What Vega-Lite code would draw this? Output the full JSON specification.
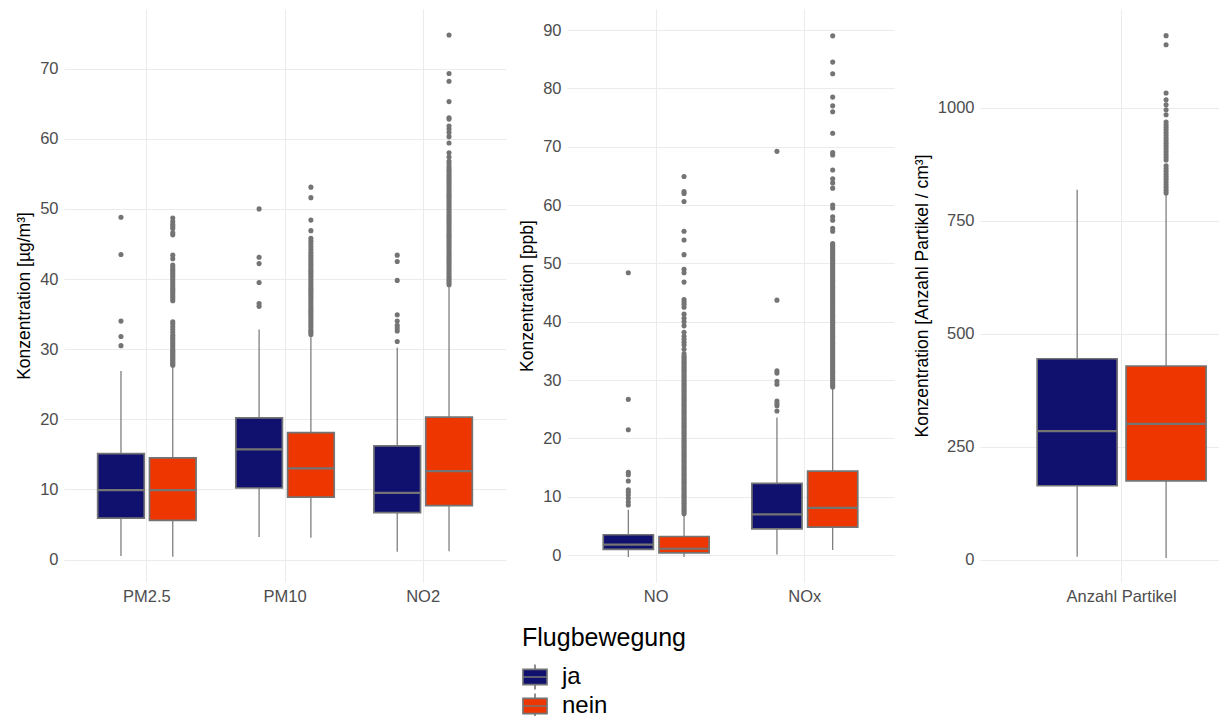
{
  "$schema": "https://vega.github.io/schema/vega-lite/v6.json",
  "padding": {"left": 15, "top": 9, "right": 0, "bottom": 0},
  "bounds": "flush",
  "spacing": 0,
  "datasets": {
    "stats": [
      {"v": "PM2.5", "g": "ja", "lo": 0.5, "q1": 5.9, "med": 9.9, "q3": 15.1, "hi": 26.9},
      {"v": "PM2.5", "g": "nein", "lo": 0.4, "q1": 5.6, "med": 9.9, "q3": 14.5, "hi": 27.6},
      {"v": "PM10", "g": "ja", "lo": 3.2, "q1": 10.2, "med": 15.7, "q3": 20.2, "hi": 32.8},
      {"v": "PM10", "g": "nein", "lo": 3.1, "q1": 8.9, "med": 13.0, "q3": 18.1, "hi": 31.9},
      {"v": "NO2", "g": "ja", "lo": 1.1, "q1": 6.7, "med": 9.5, "q3": 16.2, "hi": 30.2},
      {"v": "NO2", "g": "nein", "lo": 1.2, "q1": 7.7, "med": 12.6, "q3": 20.3, "hi": 39.1},
      {"v": "NO", "g": "ja", "lo": -0.3, "q1": 1.0, "med": 1.8, "q3": 3.5, "hi": 7.8},
      {"v": "NO", "g": "nein", "lo": -0.3, "q1": 0.4, "med": 1.1, "q3": 3.2, "hi": 7.0},
      {"v": "NOx", "g": "ja", "lo": 0.1, "q1": 4.5, "med": 7.0, "q3": 12.3, "hi": 23.6},
      {"v": "NOx", "g": "nein", "lo": 0.9, "q1": 4.8, "med": 8.1, "q3": 14.4, "hi": 28.7},
      {"v": "Anzahl Partikel", "g": "ja", "lo": 7, "q1": 164, "med": 285, "q3": 445, "hi": 819},
      {"v": "Anzahl Partikel", "g": "nein", "lo": 4, "q1": 175, "med": 301, "q3": 429, "hi": 808}
    ],
    "out": [
      {"v":"PM2.5","g":"ja","y":48.8},{"v":"PM2.5","g":"ja","y":43.5},{"v":"PM2.5","g":"ja","y":34.0},{"v":"PM2.5","g":"ja","y":31.8},{"v":"PM2.5","g":"ja","y":30.5},
      {"v":"PM2.5","g":"nein","y":27.7},{"v":"PM2.5","g":"nein","y":27.9},{"v":"PM2.5","g":"nein","y":28.1},{"v":"PM2.5","g":"nein","y":28.3},{"v":"PM2.5","g":"nein","y":28.5},{"v":"PM2.5","g":"nein","y":28.7},{"v":"PM2.5","g":"nein","y":28.9},{"v":"PM2.5","g":"nein","y":29.1},{"v":"PM2.5","g":"nein","y":29.3},{"v":"PM2.5","g":"nein","y":29.5},{"v":"PM2.5","g":"nein","y":29.7},{"v":"PM2.5","g":"nein","y":29.9},{"v":"PM2.5","g":"nein","y":30.2},{"v":"PM2.5","g":"nein","y":30.5},{"v":"PM2.5","g":"nein","y":30.8},{"v":"PM2.5","g":"nein","y":31.1},{"v":"PM2.5","g":"nein","y":31.4},{"v":"PM2.5","g":"nein","y":31.7},{"v":"PM2.5","g":"nein","y":32.0},{"v":"PM2.5","g":"nein","y":32.4},{"v":"PM2.5","g":"nein","y":32.8},{"v":"PM2.5","g":"nein","y":33.2},{"v":"PM2.5","g":"nein","y":33.6},{"v":"PM2.5","g":"nein","y":33.9},{"v":"PM2.5","g":"nein","y":36.9},{"v":"PM2.5","g":"nein","y":37.2},{"v":"PM2.5","g":"nein","y":37.5},{"v":"PM2.5","g":"nein","y":37.8},{"v":"PM2.5","g":"nein","y":38.1},{"v":"PM2.5","g":"nein","y":38.4},{"v":"PM2.5","g":"nein","y":38.7},{"v":"PM2.5","g":"nein","y":39.0},{"v":"PM2.5","g":"nein","y":39.3},{"v":"PM2.5","g":"nein","y":39.6},{"v":"PM2.5","g":"nein","y":39.9},{"v":"PM2.5","g":"nein","y":40.2},{"v":"PM2.5","g":"nein","y":40.5},{"v":"PM2.5","g":"nein","y":40.8},{"v":"PM2.5","g":"nein","y":41.1},{"v":"PM2.5","g":"nein","y":41.4},{"v":"PM2.5","g":"nein","y":41.7},{"v":"PM2.5","g":"nein","y":42.0},{"v":"PM2.5","g":"nein","y":42.9},{"v":"PM2.5","g":"nein","y":43.4},{"v":"PM2.5","g":"nein","y":46.3},{"v":"PM2.5","g":"nein","y":46.6},{"v":"PM2.5","g":"nein","y":47.2},{"v":"PM2.5","g":"nein","y":47.5},{"v":"PM2.5","g":"nein","y":47.8},{"v":"PM2.5","g":"nein","y":48.2},{"v":"PM2.5","g":"nein","y":48.7},
      {"v":"PM10","g":"ja","y":50.0},{"v":"PM10","g":"ja","y":43.1},{"v":"PM10","g":"ja","y":42.2},{"v":"PM10","g":"ja","y":39.5},{"v":"PM10","g":"ja","y":36.5},{"v":"PM10","g":"ja","y":36.1},
      {"v":"PM10","g":"nein","y":32.1},{"v":"PM10","g":"nein","y":32.4},{"v":"PM10","g":"nein","y":32.7},{"v":"PM10","g":"nein","y":33.0},{"v":"PM10","g":"nein","y":33.3},{"v":"PM10","g":"nein","y":33.6},{"v":"PM10","g":"nein","y":33.9},{"v":"PM10","g":"nein","y":34.2},{"v":"PM10","g":"nein","y":34.5},{"v":"PM10","g":"nein","y":34.8},{"v":"PM10","g":"nein","y":35.1},{"v":"PM10","g":"nein","y":35.4},{"v":"PM10","g":"nein","y":35.7},{"v":"PM10","g":"nein","y":36.0},{"v":"PM10","g":"nein","y":36.3},{"v":"PM10","g":"nein","y":36.6},{"v":"PM10","g":"nein","y":36.9},{"v":"PM10","g":"nein","y":37.2},{"v":"PM10","g":"nein","y":37.5},{"v":"PM10","g":"nein","y":37.8},{"v":"PM10","g":"nein","y":38.1},{"v":"PM10","g":"nein","y":38.4},{"v":"PM10","g":"nein","y":38.7},{"v":"PM10","g":"nein","y":39.0},{"v":"PM10","g":"nein","y":39.3},{"v":"PM10","g":"nein","y":39.6},{"v":"PM10","g":"nein","y":39.9},{"v":"PM10","g":"nein","y":40.2},{"v":"PM10","g":"nein","y":40.5},{"v":"PM10","g":"nein","y":40.8},{"v":"PM10","g":"nein","y":41.1},{"v":"PM10","g":"nein","y":41.4},{"v":"PM10","g":"nein","y":41.7},{"v":"PM10","g":"nein","y":42.0},{"v":"PM10","g":"nein","y":42.3},{"v":"PM10","g":"nein","y":42.6},{"v":"PM10","g":"nein","y":42.9},{"v":"PM10","g":"nein","y":43.2},{"v":"PM10","g":"nein","y":43.5},{"v":"PM10","g":"nein","y":43.8},{"v":"PM10","g":"nein","y":44.2},{"v":"PM10","g":"nein","y":44.6},{"v":"PM10","g":"nein","y":45.0},{"v":"PM10","g":"nein","y":45.4},{"v":"PM10","g":"nein","y":45.8},{"v":"PM10","g":"nein","y":46.9},{"v":"PM10","g":"nein","y":48.4},{"v":"PM10","g":"nein","y":51.6},{"v":"PM10","g":"nein","y":53.1},
      {"v":"NO2","g":"ja","y":31.1},{"v":"NO2","g":"ja","y":32.6},{"v":"NO2","g":"ja","y":33.0},{"v":"NO2","g":"ja","y":33.4},{"v":"NO2","g":"ja","y":34.0},{"v":"NO2","g":"ja","y":34.9},{"v":"NO2","g":"ja","y":39.8},{"v":"NO2","g":"ja","y":42.5},{"v":"NO2","g":"ja","y":43.4},
      {"v":"NO2","g":"nein","y":39.2},{"v":"NO2","g":"nein","y":39.5},{"v":"NO2","g":"nein","y":39.8},{"v":"NO2","g":"nein","y":40.1},{"v":"NO2","g":"nein","y":40.4},{"v":"NO2","g":"nein","y":40.7},{"v":"NO2","g":"nein","y":41.0},{"v":"NO2","g":"nein","y":41.3},{"v":"NO2","g":"nein","y":41.6},{"v":"NO2","g":"nein","y":41.9},{"v":"NO2","g":"nein","y":42.2},{"v":"NO2","g":"nein","y":42.5},{"v":"NO2","g":"nein","y":42.8},{"v":"NO2","g":"nein","y":43.1},{"v":"NO2","g":"nein","y":43.4},{"v":"NO2","g":"nein","y":43.7},{"v":"NO2","g":"nein","y":44.0},{"v":"NO2","g":"nein","y":44.3},{"v":"NO2","g":"nein","y":44.6},{"v":"NO2","g":"nein","y":44.9},{"v":"NO2","g":"nein","y":45.2},{"v":"NO2","g":"nein","y":45.5},{"v":"NO2","g":"nein","y":45.8},{"v":"NO2","g":"nein","y":46.1},{"v":"NO2","g":"nein","y":46.4},{"v":"NO2","g":"nein","y":46.7},{"v":"NO2","g":"nein","y":47.0},{"v":"NO2","g":"nein","y":47.3},{"v":"NO2","g":"nein","y":47.6},{"v":"NO2","g":"nein","y":47.9},{"v":"NO2","g":"nein","y":48.2},{"v":"NO2","g":"nein","y":48.5},{"v":"NO2","g":"nein","y":48.8},{"v":"NO2","g":"nein","y":49.1},{"v":"NO2","g":"nein","y":49.4},{"v":"NO2","g":"nein","y":49.7},{"v":"NO2","g":"nein","y":50.0},{"v":"NO2","g":"nein","y":50.3},{"v":"NO2","g":"nein","y":50.6},{"v":"NO2","g":"nein","y":50.9},{"v":"NO2","g":"nein","y":51.2},{"v":"NO2","g":"nein","y":51.5},{"v":"NO2","g":"nein","y":51.8},{"v":"NO2","g":"nein","y":52.1},{"v":"NO2","g":"nein","y":52.4},{"v":"NO2","g":"nein","y":52.7},{"v":"NO2","g":"nein","y":53.0},{"v":"NO2","g":"nein","y":53.3},{"v":"NO2","g":"nein","y":53.6},{"v":"NO2","g":"nein","y":53.9},{"v":"NO2","g":"nein","y":54.2},{"v":"NO2","g":"nein","y":54.5},{"v":"NO2","g":"nein","y":54.8},{"v":"NO2","g":"nein","y":55.1},{"v":"NO2","g":"nein","y":55.4},{"v":"NO2","g":"nein","y":55.7},{"v":"NO2","g":"nein","y":56.0},{"v":"NO2","g":"nein","y":56.4},{"v":"NO2","g":"nein","y":56.8},{"v":"NO2","g":"nein","y":57.4},{"v":"NO2","g":"nein","y":58.0},{"v":"NO2","g":"nein","y":59.4},{"v":"NO2","g":"nein","y":60.3},{"v":"NO2","g":"nein","y":60.9},{"v":"NO2","g":"nein","y":61.4},{"v":"NO2","g":"nein","y":61.8},{"v":"NO2","g":"nein","y":62.8},{"v":"NO2","g":"nein","y":63.0},{"v":"NO2","g":"nein","y":65.3},{"v":"NO2","g":"nein","y":68.2},{"v":"NO2","g":"nein","y":69.3},{"v":"NO2","g":"nein","y":74.8},
      {"v":"NO","g":"ja","y":8.6},{"v":"NO","g":"ja","y":9.1},{"v":"NO","g":"ja","y":9.7},{"v":"NO","g":"ja","y":10.3},{"v":"NO","g":"ja","y":10.8},{"v":"NO","g":"ja","y":11.2},{"v":"NO","g":"ja","y":12.7},{"v":"NO","g":"ja","y":13.8},{"v":"NO","g":"ja","y":14.2},{"v":"NO","g":"ja","y":21.5},{"v":"NO","g":"ja","y":26.7},{"v":"NO","g":"ja","y":48.4},
      {"v":"NO","g":"nein","y":7.1},{"v":"NO","g":"nein","y":7.4},{"v":"NO","g":"nein","y":7.7},{"v":"NO","g":"nein","y":8.0},{"v":"NO","g":"nein","y":8.3},{"v":"NO","g":"nein","y":8.6},{"v":"NO","g":"nein","y":8.9},{"v":"NO","g":"nein","y":9.2},{"v":"NO","g":"nein","y":9.5},{"v":"NO","g":"nein","y":9.8},{"v":"NO","g":"nein","y":10.1},{"v":"NO","g":"nein","y":10.4},{"v":"NO","g":"nein","y":10.7},{"v":"NO","g":"nein","y":11.0},{"v":"NO","g":"nein","y":11.3},{"v":"NO","g":"nein","y":11.6},{"v":"NO","g":"nein","y":11.9},{"v":"NO","g":"nein","y":12.2},{"v":"NO","g":"nein","y":12.5},{"v":"NO","g":"nein","y":12.8},{"v":"NO","g":"nein","y":13.1},{"v":"NO","g":"nein","y":13.4},{"v":"NO","g":"nein","y":13.7},{"v":"NO","g":"nein","y":14.0},{"v":"NO","g":"nein","y":14.3},{"v":"NO","g":"nein","y":14.6},{"v":"NO","g":"nein","y":14.9},{"v":"NO","g":"nein","y":15.2},{"v":"NO","g":"nein","y":15.5},{"v":"NO","g":"nein","y":15.8},{"v":"NO","g":"nein","y":16.1},{"v":"NO","g":"nein","y":16.4},{"v":"NO","g":"nein","y":16.7},{"v":"NO","g":"nein","y":17.0},{"v":"NO","g":"nein","y":17.3},{"v":"NO","g":"nein","y":17.6},{"v":"NO","g":"nein","y":17.9},{"v":"NO","g":"nein","y":18.2},{"v":"NO","g":"nein","y":18.5},{"v":"NO","g":"nein","y":18.8},{"v":"NO","g":"nein","y":19.1},{"v":"NO","g":"nein","y":19.4},{"v":"NO","g":"nein","y":19.7},{"v":"NO","g":"nein","y":20.0},{"v":"NO","g":"nein","y":20.3},{"v":"NO","g":"nein","y":20.6},{"v":"NO","g":"nein","y":20.9},{"v":"NO","g":"nein","y":21.2},{"v":"NO","g":"nein","y":21.5},{"v":"NO","g":"nein","y":21.8},{"v":"NO","g":"nein","y":22.1},{"v":"NO","g":"nein","y":22.4},{"v":"NO","g":"nein","y":22.7},{"v":"NO","g":"nein","y":23.0},{"v":"NO","g":"nein","y":23.3},{"v":"NO","g":"nein","y":23.6},{"v":"NO","g":"nein","y":23.9},{"v":"NO","g":"nein","y":24.2},{"v":"NO","g":"nein","y":24.5},{"v":"NO","g":"nein","y":24.8},{"v":"NO","g":"nein","y":25.1},{"v":"NO","g":"nein","y":25.4},{"v":"NO","g":"nein","y":25.7},{"v":"NO","g":"nein","y":26.0},{"v":"NO","g":"nein","y":26.3},{"v":"NO","g":"nein","y":26.6},{"v":"NO","g":"nein","y":26.9},{"v":"NO","g":"nein","y":27.2},{"v":"NO","g":"nein","y":27.5},{"v":"NO","g":"nein","y":27.8},{"v":"NO","g":"nein","y":28.1},{"v":"NO","g":"nein","y":28.4},{"v":"NO","g":"nein","y":28.7},{"v":"NO","g":"nein","y":29.0},{"v":"NO","g":"nein","y":29.3},{"v":"NO","g":"nein","y":29.6},{"v":"NO","g":"nein","y":29.9},{"v":"NO","g":"nein","y":30.2},{"v":"NO","g":"nein","y":30.5},{"v":"NO","g":"nein","y":30.8},{"v":"NO","g":"nein","y":31.1},{"v":"NO","g":"nein","y":31.4},{"v":"NO","g":"nein","y":31.7},{"v":"NO","g":"nein","y":32.0},{"v":"NO","g":"nein","y":32.3},{"v":"NO","g":"nein","y":32.6},{"v":"NO","g":"nein","y":32.9},{"v":"NO","g":"nein","y":33.2},{"v":"NO","g":"nein","y":33.5},{"v":"NO","g":"nein","y":33.8},{"v":"NO","g":"nein","y":34.1},{"v":"NO","g":"nein","y":34.5},{"v":"NO","g":"nein","y":35.3},{"v":"NO","g":"nein","y":36.0},{"v":"NO","g":"nein","y":36.5},{"v":"NO","g":"nein","y":37.0},{"v":"NO","g":"nein","y":37.5},{"v":"NO","g":"nein","y":38.2},{"v":"NO","g":"nein","y":39.3},{"v":"NO","g":"nein","y":40.0},{"v":"NO","g":"nein","y":40.6},{"v":"NO","g":"nein","y":41.3},{"v":"NO","g":"nein","y":42.5},{"v":"NO","g":"nein","y":43.0},{"v":"NO","g":"nein","y":43.4},{"v":"NO","g":"nein","y":43.8},{"v":"NO","g":"nein","y":46.8},{"v":"NO","g":"nein","y":48.4},{"v":"NO","g":"nein","y":49.0},{"v":"NO","g":"nein","y":51.5},{"v":"NO","g":"nein","y":54.0},{"v":"NO","g":"nein","y":55.5},{"v":"NO","g":"nein","y":60.6},{"v":"NO","g":"nein","y":62.0},{"v":"NO","g":"nein","y":62.3},{"v":"NO","g":"nein","y":64.9},
      {"v":"NOx","g":"ja","y":24.7},{"v":"NOx","g":"ja","y":25.6},{"v":"NOx","g":"ja","y":26.0},{"v":"NOx","g":"ja","y":26.4},{"v":"NOx","g":"ja","y":29.3},{"v":"NOx","g":"ja","y":29.8},{"v":"NOx","g":"ja","y":31.2},{"v":"NOx","g":"ja","y":31.6},{"v":"NOx","g":"ja","y":43.7},{"v":"NOx","g":"ja","y":69.2},
      {"v":"NOx","g":"nein","y":28.8},{"v":"NOx","g":"nein","y":29.1},{"v":"NOx","g":"nein","y":29.4},{"v":"NOx","g":"nein","y":29.7},{"v":"NOx","g":"nein","y":30.0},{"v":"NOx","g":"nein","y":30.3},{"v":"NOx","g":"nein","y":30.6},{"v":"NOx","g":"nein","y":30.9},{"v":"NOx","g":"nein","y":31.2},{"v":"NOx","g":"nein","y":31.5},{"v":"NOx","g":"nein","y":31.8},{"v":"NOx","g":"nein","y":32.1},{"v":"NOx","g":"nein","y":32.4},{"v":"NOx","g":"nein","y":32.7},{"v":"NOx","g":"nein","y":33.0},{"v":"NOx","g":"nein","y":33.3},{"v":"NOx","g":"nein","y":33.6},{"v":"NOx","g":"nein","y":33.9},{"v":"NOx","g":"nein","y":34.2},{"v":"NOx","g":"nein","y":34.5},{"v":"NOx","g":"nein","y":34.8},{"v":"NOx","g":"nein","y":35.1},{"v":"NOx","g":"nein","y":35.4},{"v":"NOx","g":"nein","y":35.7},{"v":"NOx","g":"nein","y":36.0},{"v":"NOx","g":"nein","y":36.3},{"v":"NOx","g":"nein","y":36.6},{"v":"NOx","g":"nein","y":36.9},{"v":"NOx","g":"nein","y":37.2},{"v":"NOx","g":"nein","y":37.5},{"v":"NOx","g":"nein","y":37.8},{"v":"NOx","g":"nein","y":38.1},{"v":"NOx","g":"nein","y":38.4},{"v":"NOx","g":"nein","y":38.7},{"v":"NOx","g":"nein","y":39.0},{"v":"NOx","g":"nein","y":39.3},{"v":"NOx","g":"nein","y":39.6},{"v":"NOx","g":"nein","y":39.9},{"v":"NOx","g":"nein","y":40.2},{"v":"NOx","g":"nein","y":40.5},{"v":"NOx","g":"nein","y":40.8},{"v":"NOx","g":"nein","y":41.1},{"v":"NOx","g":"nein","y":41.4},{"v":"NOx","g":"nein","y":41.7},{"v":"NOx","g":"nein","y":42.0},{"v":"NOx","g":"nein","y":42.3},{"v":"NOx","g":"nein","y":42.6},{"v":"NOx","g":"nein","y":42.9},{"v":"NOx","g":"nein","y":43.2},{"v":"NOx","g":"nein","y":43.5},{"v":"NOx","g":"nein","y":43.8},{"v":"NOx","g":"nein","y":44.1},{"v":"NOx","g":"nein","y":44.4},{"v":"NOx","g":"nein","y":44.7},{"v":"NOx","g":"nein","y":45.0},{"v":"NOx","g":"nein","y":45.3},{"v":"NOx","g":"nein","y":45.6},{"v":"NOx","g":"nein","y":45.9},{"v":"NOx","g":"nein","y":46.2},{"v":"NOx","g":"nein","y":46.5},{"v":"NOx","g":"nein","y":46.8},{"v":"NOx","g":"nein","y":47.1},{"v":"NOx","g":"nein","y":47.4},{"v":"NOx","g":"nein","y":47.7},{"v":"NOx","g":"nein","y":48.0},{"v":"NOx","g":"nein","y":48.3},{"v":"NOx","g":"nein","y":48.6},{"v":"NOx","g":"nein","y":48.9},{"v":"NOx","g":"nein","y":49.2},{"v":"NOx","g":"nein","y":49.5},{"v":"NOx","g":"nein","y":49.8},{"v":"NOx","g":"nein","y":50.1},{"v":"NOx","g":"nein","y":50.4},{"v":"NOx","g":"nein","y":50.7},{"v":"NOx","g":"nein","y":51.0},{"v":"NOx","g":"nein","y":51.3},{"v":"NOx","g":"nein","y":51.6},{"v":"NOx","g":"nein","y":51.9},{"v":"NOx","g":"nein","y":52.2},{"v":"NOx","g":"nein","y":52.5},{"v":"NOx","g":"nein","y":52.8},{"v":"NOx","g":"nein","y":53.1},{"v":"NOx","g":"nein","y":53.4},{"v":"NOx","g":"nein","y":55.5},{"v":"NOx","g":"nein","y":56.0},{"v":"NOx","g":"nein","y":57.4},{"v":"NOx","g":"nein","y":58.0},{"v":"NOx","g":"nein","y":59.5},{"v":"NOx","g":"nein","y":60.0},{"v":"NOx","g":"nein","y":62.9},{"v":"NOx","g":"nein","y":63.8},{"v":"NOx","g":"nein","y":64.5},{"v":"NOx","g":"nein","y":66.0},{"v":"NOx","g":"nein","y":68.6},{"v":"NOx","g":"nein","y":69.0},{"v":"NOx","g":"nein","y":72.3},{"v":"NOx","g":"nein","y":76.0},{"v":"NOx","g":"nein","y":77.0},{"v":"NOx","g":"nein","y":78.5},{"v":"NOx","g":"nein","y":82.5},{"v":"NOx","g":"nein","y":84.5},{"v":"NOx","g":"nein","y":89.0},
      {"v":"Anzahl Partikel","g":"nein","y":812},{"v":"Anzahl Partikel","g":"nein","y":818},{"v":"Anzahl Partikel","g":"nein","y":824},{"v":"Anzahl Partikel","g":"nein","y":830},{"v":"Anzahl Partikel","g":"nein","y":836},{"v":"Anzahl Partikel","g":"nein","y":842},{"v":"Anzahl Partikel","g":"nein","y":848},{"v":"Anzahl Partikel","g":"nein","y":854},{"v":"Anzahl Partikel","g":"nein","y":860},{"v":"Anzahl Partikel","g":"nein","y":866},{"v":"Anzahl Partikel","g":"nein","y":872},{"v":"Anzahl Partikel","g":"nein","y":885},{"v":"Anzahl Partikel","g":"nein","y":891},{"v":"Anzahl Partikel","g":"nein","y":897},{"v":"Anzahl Partikel","g":"nein","y":903},{"v":"Anzahl Partikel","g":"nein","y":909},{"v":"Anzahl Partikel","g":"nein","y":915},{"v":"Anzahl Partikel","g":"nein","y":921},{"v":"Anzahl Partikel","g":"nein","y":927},{"v":"Anzahl Partikel","g":"nein","y":933},{"v":"Anzahl Partikel","g":"nein","y":939},{"v":"Anzahl Partikel","g":"nein","y":945},{"v":"Anzahl Partikel","g":"nein","y":951},{"v":"Anzahl Partikel","g":"nein","y":957},{"v":"Anzahl Partikel","g":"nein","y":963},{"v":"Anzahl Partikel","g":"nein","y":969},{"v":"Anzahl Partikel","g":"nein","y":985},{"v":"Anzahl Partikel","g":"nein","y":996},{"v":"Anzahl Partikel","g":"nein","y":1007},{"v":"Anzahl Partikel","g":"nein","y":1018},{"v":"Anzahl Partikel","g":"nein","y":1033},{"v":"Anzahl Partikel","g":"nein","y":1140},{"v":"Anzahl Partikel","g":"nein","y":1160}
    ],
    "blank": [{"k": 1}]
  },
  "resolve": {"scale": {"x": "independent", "y": "independent", "xOffset": "independent", "fill": "shared"}},
  "hconcat": [
    {
      "width": 442, "height": 573,
      "encoding": {
        "x": {"field": "v", "type": "nominal", "sort": ["PM2.5", "PM10", "NO2"], "scale": {"domain": ["PM2.5", "PM10", "NO2"], "paddingInner": 0.25, "paddingOuter": 0.225}, "axis": {"title": null, "grid": true, "bandPosition": 0.5, "labelAngle": 0}},
        "xOffset": {"field": "g", "type": "nominal", "scale": {"domain": ["ja", "nein"], "paddingInner": 0.1, "paddingOuter": 0.05}}
      },
      "layer": [
        {"data": {"name": "stats"}, "transform": [{"filter": {"field": "v", "oneOf": ["PM2.5", "PM10", "NO2"]}}],
         "mark": {"type": "rule", "color": "#747474", "strokeWidth": 1.2},
         "encoding": {"y": {"field": "lo", "type": "quantitative", "title": "Konzentration  [µg/m³]", "scale": {"domain": [-3.2, 78.5], "nice": false, "zero": false}, "axis": {"values": [0, 10, 20, 30, 40, 50, 60, 70], "title": "Konzentration  [µg/m³]"}}, "y2": {"field": "hi"}}},
        {"data": {"name": "stats"}, "transform": [{"filter": {"field": "v", "oneOf": ["PM2.5", "PM10", "NO2"]}}],
         "mark": {"type": "bar", "stroke": "#747474", "strokeWidth": 1.7},
         "encoding": {"y": {"field": "q1", "type": "quantitative", "title": "Konzentration  [µg/m³]"}, "y2": {"field": "q3"},
           "fill": {"field": "g", "type": "nominal", "title": "Flugbewegung", "scale": {"domain": ["ja", "nein"], "range": ["#10116f", "#ee3700"]},
             "legend": {"orient": "none", "legendX": 458, "legendY": 617, "direction": "vertical", "title": "Flugbewegung", "titleFontSize": 25, "titleFontWeight": "normal", "titleColor": "#000000", "titlePadding": 13, "labelFontSize": 24, "labelColor": "#000000", "labelOffset": 14, "rowPadding": -3, "padding": 0, "offset": 0, "symbolType": "M-1,-0.63H1V0.63H-1Z M-1,0H1 M0,-0.63V-1.04 M0,0.63V1.04", "symbolSize": 580, "symbolStrokeColor": "#747474", "symbolStrokeWidth": 1.6, "symbolOpacity": 1}}}},
        {"data": {"name": "stats"}, "transform": [{"filter": {"field": "v", "oneOf": ["PM2.5", "PM10", "NO2"]}}],
         "mark": {"type": "bar", "fill": "transparent", "stroke": "#747474", "strokeWidth": 2.2},
         "encoding": {"y": {"field": "med", "type": "quantitative", "title": "Konzentration  [µg/m³]"}, "y2": {"field": "med"}}},
        {"data": {"name": "out"}, "transform": [{"filter": {"field": "v", "oneOf": ["PM2.5", "PM10", "NO2"]}}],
         "mark": {"type": "circle", "size": 26, "color": "#747474", "opacity": 1},
         "encoding": {"y": {"field": "y", "type": "quantitative", "title": "Konzentration  [µg/m³]"}}}
      ]
    },
    {"width": 61, "height": 573, "data": {"name": "blank"}, "mark": {"type": "point", "opacity": 0}, "encoding": {}},
    {
      "width": 327, "height": 573,
      "encoding": {
        "x": {"field": "v", "type": "nominal", "sort": ["NO", "NOx"], "scale": {"domain": ["NO", "NOx"], "paddingInner": 0.25, "paddingOuter": 0.225}, "axis": {"title": null, "grid": true, "bandPosition": 0.5, "labelAngle": 0}},
        "xOffset": {"field": "g", "type": "nominal", "scale": {"domain": ["ja", "nein"], "paddingInner": 0.1, "paddingOuter": 0.05}}
      },
      "layer": [
        {"data": {"name": "stats"}, "transform": [{"filter": {"field": "v", "oneOf": ["NO", "NOx"]}}],
         "mark": {"type": "rule", "color": "#747474", "strokeWidth": 1.2},
         "encoding": {"y": {"field": "lo", "type": "quantitative", "title": "Konzentration  [ppb]", "scale": {"domain": [-4.6, 93.6], "nice": false, "zero": false}, "axis": {"values": [0, 10, 20, 30, 40, 50, 60, 70, 80, 90], "title": "Konzentration  [ppb]"}}, "y2": {"field": "hi"}}},
        {"data": {"name": "stats"}, "transform": [{"filter": {"field": "v", "oneOf": ["NO", "NOx"]}}],
         "mark": {"type": "bar", "stroke": "#747474", "strokeWidth": 1.7},
         "encoding": {"y": {"field": "q1", "type": "quantitative", "title": "Konzentration  [ppb]"}, "y2": {"field": "q3"},
           "fill": {"field": "g", "type": "nominal", "title": "Flugbewegung"}}},
        {"data": {"name": "stats"}, "transform": [{"filter": {"field": "v", "oneOf": ["NO", "NOx"]}}],
         "mark": {"type": "bar", "fill": "transparent", "stroke": "#747474", "strokeWidth": 2.2},
         "encoding": {"y": {"field": "med", "type": "quantitative", "title": "Konzentration  [ppb]"}, "y2": {"field": "med"}}},
        {"data": {"name": "out"}, "transform": [{"filter": {"field": "v", "oneOf": ["NO", "NOx"]}}],
         "mark": {"type": "circle", "size": 26, "color": "#747474", "opacity": 1},
         "encoding": {"y": {"field": "y", "type": "quantitative", "title": "Konzentration  [ppb]"}}}
      ]
    },
    {"width": 86, "height": 573, "data": {"name": "blank"}, "mark": {"type": "point", "opacity": 0}, "encoding": {}},
    {
      "width": 240, "height": 573,
      "encoding": {
        "x": {"field": "v", "type": "nominal", "scale": {"domain": ["Anzahl Partikel"], "paddingInner": 0.25, "paddingOuter": 0.131, "align": 0.848}, "axis": {"title": null, "grid": true, "bandPosition": 0.5, "labelAngle": 0}},
        "xOffset": {"field": "g", "type": "nominal", "scale": {"domain": ["ja", "nein"], "paddingInner": 0.1, "paddingOuter": 0.05}}
      },
      "layer": [
        {"data": {"name": "stats"}, "transform": [{"filter": {"field": "v", "oneOf": ["Anzahl Partikel"]}}],
         "mark": {"type": "rule", "color": "#747474", "strokeWidth": 1.2},
         "encoding": {"y": {"field": "lo", "type": "quantitative", "title": "Konzentration [Anzahl Partikel / cm³]", "scale": {"domain": [-49, 1219], "nice": false, "zero": false}, "axis": {"values": [0, 250, 500, 750, 1000], "format": "d", "title": "Konzentration [Anzahl Partikel / cm³]"}}, "y2": {"field": "hi"}}},
        {"data": {"name": "stats"}, "transform": [{"filter": {"field": "v", "oneOf": ["Anzahl Partikel"]}}],
         "mark": {"type": "bar", "stroke": "#747474", "strokeWidth": 1.7},
         "encoding": {"y": {"field": "q1", "type": "quantitative", "title": "Konzentration [Anzahl Partikel / cm³]"}, "y2": {"field": "q3"},
           "fill": {"field": "g", "type": "nominal", "title": "Flugbewegung"}}},
        {"data": {"name": "stats"}, "transform": [{"filter": {"field": "v", "oneOf": ["Anzahl Partikel"]}}],
         "mark": {"type": "bar", "fill": "transparent", "stroke": "#747474", "strokeWidth": 2.2},
         "encoding": {"y": {"field": "med", "type": "quantitative", "title": "Konzentration [Anzahl Partikel / cm³]"}, "y2": {"field": "med"}}},
        {"data": {"name": "out"}, "transform": [{"filter": {"field": "v", "oneOf": ["Anzahl Partikel"]}}],
         "mark": {"type": "circle", "size": 26, "color": "#747474", "opacity": 1},
         "encoding": {"y": {"field": "y", "type": "quantitative", "title": "Konzentration [Anzahl Partikel / cm³]"}}}
      ]
    }
  ],
  "config": {
    "font": "Liberation Sans",
    "view": {"stroke": null},
    "axis": {"domain": false, "ticks": false, "gridColor": "#ebebeb", "gridWidth": 1, "labelColor": "#4d4d4d", "labelFontSize": 16.5, "titleFontSize": 17.5, "titleFontWeight": "normal", "titleColor": "#000000", "labelFont": "Liberation Sans", "titleFont": "Liberation Sans"},
    "axisX": {"labelPadding": 6},
    "axisY": {"labelPadding": 6, "titlePadding": 6, "grid": true},
    "legend": {"labelFont": "Liberation Sans", "titleFont": "Liberation Sans"}
  }
}
